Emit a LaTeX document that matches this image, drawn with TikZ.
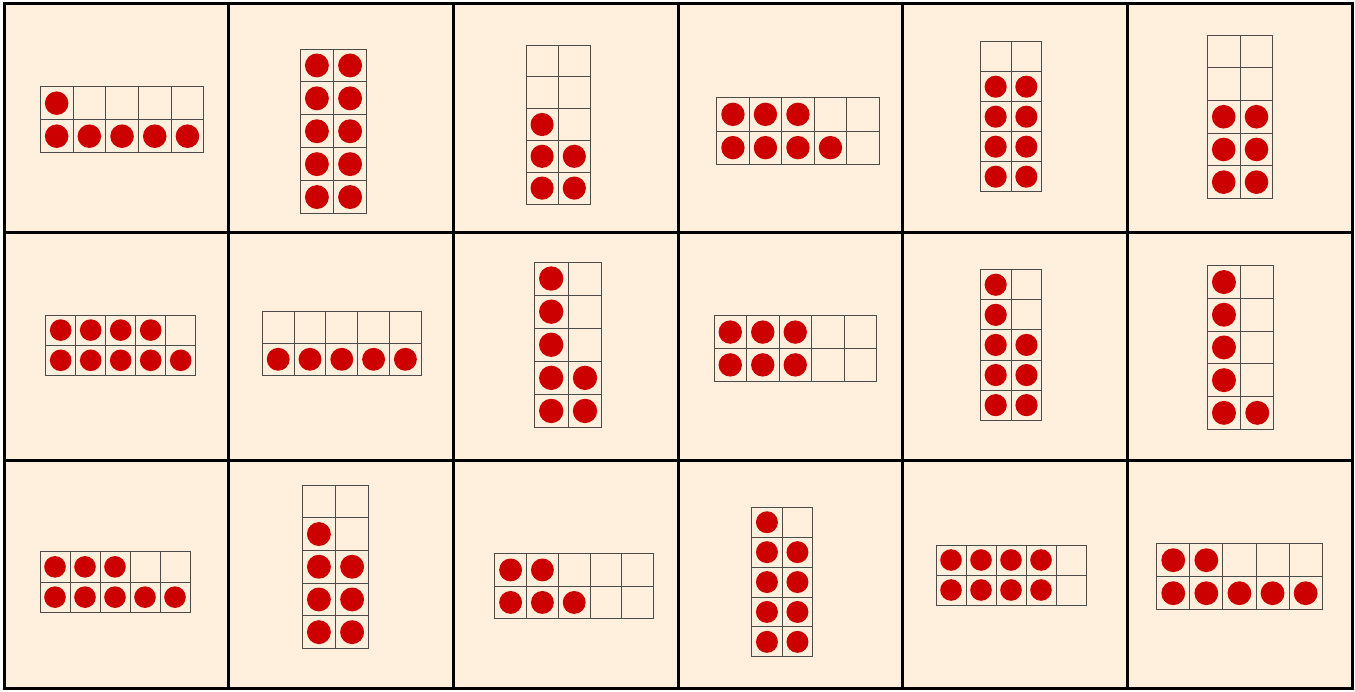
\documentclass[tikz,border=0pt]{standalone}
\definecolor{cardbg}{RGB}{255,240,222}
\definecolor{dotred}{RGB}{204,0,0}
\tikzset{
  cardbox/.style={fill=cardbg,draw=black,line width=3pt},
  cellline/.style={draw=black!70,line width=0.9pt},
  dotfill/.style={fill=dotred}
}
% horizontal ten-frame: x y w h top bottom
\newcommand\tfH[6]{%
  \foreach \i in {0,...,4}{\foreach \j in {0,1}{\draw[cellline] ({#1+\i*#3},{#2+\j*#4}) rectangle ++(#3,#4);}}
  \ifnum#5>0 \foreach \i in {1,...,#5}{\fill[dotfill] ({#1+(\i-0.5)*#3},{#2+0.5*#4}) circle[radius={0.36*#3pt}];}\fi
  \ifnum#6>0 \foreach \i in {1,...,#6}{\fill[dotfill] ({#1+(\i-0.5)*#3},{#2+1.5*#4}) circle[radius={0.36*#3pt}];}\fi
}
% vertical ten-frame: x y w h {row counts}
\newcommand\tfV[5]{%
  \foreach \i in {0,1}{\foreach \j in {0,...,4}{\draw[cellline] ({#1+\i*#3},{#2+\j*#4}) rectangle ++(#3,#4);}}
  \foreach \n [count=\r] in {#5}{%
    \ifnum\n>0 \fill[dotfill] ({#1+0.5*#3},{#2+(\r-0.5)*#4}) circle[radius={0.36*#3pt}];\fi
    \ifnum\n>1 \fill[dotfill] ({#1+1.5*#3},{#2+(\r-0.5)*#4}) circle[radius={0.36*#3pt}];\fi
  }%
}
\begin{document}
\begin{tikzpicture}[x=1pt,y=-1pt]
\useasboundingbox (0,0) rectangle (1355,692);
\fill[white] (0,0) rectangle (1355,692);
% cards
\foreach \c in {0,...,5}{\foreach \r in {0,1,2}{
  \draw[cardbox] ({4+\c*224.67},{4+\r*228.33}) rectangle ++(224.67,228.33);
}}
% row 1
\tfH{40.3}{86.7}{32.7}{33}{1}{5}
\tfV{300.3}{49}{33.2}{32.9}{2,2,2,2,2}
\tfV{526}{45}{32.2}{31.8}{0,0,1,2,2}
\tfH{716.7}{97.7}{32.5}{33.3}{3}{4}
\tfV{980.3}{41.7}{30.7}{30}{0,2,2,2,2}
\tfV{1207.3}{35}{32.8}{32.7}{0,0,2,2,2}
% row 2
\tfH{45.7}{315}{30}{30.2}{4}{5}
\tfH{262.3}{311.3}{31.8}{32}{0}{5}
\tfV{534.3}{262}{33.8}{33.1}{1,1,1,2,2}
\tfH{714}{315.7}{32.5}{32.8}{3}{3}
\tfV{980.3}{269.7}{30.8}{30.1}{1,1,2,2,2}
\tfV{1207.3}{265.7}{33.3}{32.7}{1,1,1,1,2}
% row 3
\tfH{40}{551.7}{30}{30.3}{3}{5}
\tfV{302.3}{485}{33.2}{32.7}{0,1,2,2,2}
\tfH{494.7}{553.7}{31.8}{32.5}{2}{3}
\tfV{751.7}{507.3}{30.5}{29.9}{1,2,2,2,2}
\tfH{936}{545}{30}{30}{4}{4}
\tfH{1156.7}{543.7}{33.1}{33}{2}{5}
\end{tikzpicture}
\end{document}
